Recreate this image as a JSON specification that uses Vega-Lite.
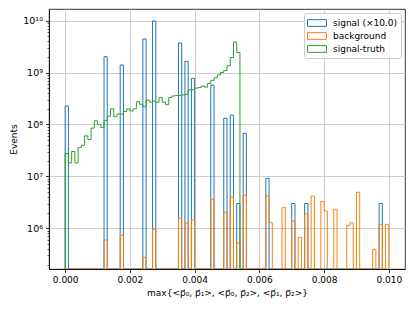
{
  "$schema": "https://vega.github.io/schema/vega-lite/v6.json",
  "width": 356,
  "height": 260,
  "autosize": {"type": "none"},
  "padding": {"left": 49, "top": 9, "right": 10, "bottom": 42},
  "background": "white",
  "config": {
    "view": {"stroke": "#000000", "strokeWidth": 0.8},
    "font": "DejaVu Sans",
    "axis": {
      "domainColor": "#000000", "domainWidth": 0.8,
      "tickColor": "#000000", "tickWidth": 0.8, "tickSize": 3.5,
      "labelColor": "#000000", "titleColor": "#000000",
      "labelFont": "DejaVu Sans", "titleFont": "DejaVu Sans",
      "labelFontSize": 9, "titleFontSize": 9, "titleFontWeight": "normal",
      "labelPadding": 3, "gridColor": "#c0c0c0", "gridWidth": 0.8, "zindex": 1
    },
    "legend": {
      "orient": "top-right", "offset": 4, "padding": 3, "rowPadding": 0,
      "labelFont": "DejaVu Sans", "labelFontSize": 9, "labelColor": "#000000",
      "symbolType": "M-1.46,-0.515H1.46V0.515H-1.46Z", "symbolSize": 169,
      "symbolStrokeWidth": 1, "symbolFillColor": "transparent", "symbolOffset": 3,
      "labelOffset": 9, "fillColor": "rgba(255,255,255,0.8)", "strokeColor": "#cccccc",
      "cornerRadius": 2
    }
  },
  "data": {
    "values": [
      {"s": "signal (×10.0)", "k": 0, "x": 0, "n": 0},
      {"s": "signal (×10.0)", "k": 1, "x": 0, "n": 227000000},
      {"s": "signal (×10.0)", "k": 2, "x": 0.0001, "n": 0},
      {"s": "signal (×10.0)", "k": 3, "x": 0.0012, "n": 2020000000},
      {"s": "signal (×10.0)", "k": 4, "x": 0.0013, "n": 0},
      {"s": "signal (×10.0)", "k": 5, "x": 0.0017, "n": 1400000000},
      {"s": "signal (×10.0)", "k": 6, "x": 0.0018, "n": 0},
      {"s": "signal (×10.0)", "k": 7, "x": 0.0024, "n": 4440000000},
      {"s": "signal (×10.0)", "k": 8, "x": 0.0025, "n": 0},
      {"s": "signal (×10.0)", "k": 9, "x": 0.0027, "n": 9860000000},
      {"s": "signal (×10.0)", "k": 10, "x": 0.0028, "n": 0},
      {"s": "signal (×10.0)", "k": 11, "x": 0.0035, "n": 3720000000},
      {"s": "signal (×10.0)", "k": 12, "x": 0.0036, "n": 0},
      {"s": "signal (×10.0)", "k": 13, "x": 0.0037, "n": 1650000000},
      {"s": "signal (×10.0)", "k": 14, "x": 0.0038, "n": 0},
      {"s": "signal (×10.0)", "k": 15, "x": 0.0039, "n": 776000000},
      {"s": "signal (×10.0)", "k": 16, "x": 0.004, "n": 0},
      {"s": "signal (×10.0)", "k": 17, "x": 0.0045, "n": 575000000},
      {"s": "signal (×10.0)", "k": 18, "x": 0.0046, "n": 0},
      {"s": "signal (×10.0)", "k": 19, "x": 0.0049, "n": 132000000},
      {"s": "signal (×10.0)", "k": 20, "x": 0.005, "n": 0},
      {"s": "signal (×10.0)", "k": 21, "x": 0.0051, "n": 152000000},
      {"s": "signal (×10.0)", "k": 22, "x": 0.0052, "n": 0},
      {"s": "signal (×10.0)", "k": 23, "x": 0.0053, "n": 3000000},
      {"s": "signal (×10.0)", "k": 24, "x": 0.0054, "n": 0},
      {"s": "signal (×10.0)", "k": 25, "x": 0.0055, "n": 67600000},
      {"s": "signal (×10.0)", "k": 26, "x": 0.0056, "n": 0},
      {"s": "signal (×10.0)", "k": 27, "x": 0.0062, "n": 9180000},
      {"s": "signal (×10.0)", "k": 28, "x": 0.0063, "n": 0},
      {"s": "signal (×10.0)", "k": 29, "x": 0.007, "n": 3000000},
      {"s": "signal (×10.0)", "k": 30, "x": 0.0071, "n": 0},
      {"s": "signal (×10.0)", "k": 31, "x": 0.0074, "n": 3000000},
      {"s": "signal (×10.0)", "k": 32, "x": 0.0075, "n": 0},
      {"s": "signal (×10.0)", "k": 33, "x": 0.0097, "n": 3000000},
      {"s": "signal (×10.0)", "k": 34, "x": 0.0098, "n": 0},

      {"s": "background", "k": 0, "x": 0, "n": 0},
      {"s": "background", "k": 1, "x": 0.0012, "n": 594000},
      {"s": "background", "k": 2, "x": 0.0013, "n": 0},
      {"s": "background", "k": 3, "x": 0.0017, "n": 733000},
      {"s": "background", "k": 4, "x": 0.0018, "n": 0},
      {"s": "background", "k": 5, "x": 0.0024, "n": 275000},
      {"s": "background", "k": 6, "x": 0.0025, "n": 0},
      {"s": "background", "k": 7, "x": 0.0027, "n": 955000},
      {"s": "background", "k": 8, "x": 0.0028, "n": 0},
      {"s": "background", "k": 9, "x": 0.0035, "n": 1550000},
      {"s": "background", "k": 10, "x": 0.0036, "n": 0},
      {"s": "background", "k": 11, "x": 0.0037, "n": 1260000},
      {"s": "background", "k": 12, "x": 0.0038, "n": 0},
      {"s": "background", "k": 13, "x": 0.0039, "n": 1450000},
      {"s": "background", "k": 14, "x": 0.004, "n": 0},
      {"s": "background", "k": 15, "x": 0.0045, "n": 3630000},
      {"s": "background", "k": 16, "x": 0.0046, "n": 0},
      {"s": "background", "k": 17, "x": 0.0049, "n": 2040000},
      {"s": "background", "k": 18, "x": 0.005, "n": 0},
      {"s": "background", "k": 19, "x": 0.0051, "n": 3980000},
      {"s": "background", "k": 20, "x": 0.0052, "n": 0},
      {"s": "background", "k": 21, "x": 0.0053, "n": 521000},
      {"s": "background", "k": 22, "x": 0.0054, "n": 0},
      {"s": "background", "k": 23, "x": 0.0055, "n": 4330000},
      {"s": "background", "k": 24, "x": 0.0056, "n": 0},
      {"s": "background", "k": 25, "x": 0.0062, "n": 4190000},
      {"s": "background", "k": 26, "x": 0.0063, "n": 1280000},
      {"s": "background", "k": 27, "x": 0.0064, "n": 0},
      {"s": "background", "k": 28, "x": 0.0067, "n": 2540000},
      {"s": "background", "k": 29, "x": 0.0068, "n": 0},
      {"s": "background", "k": 30, "x": 0.007, "n": 1380000},
      {"s": "background", "k": 31, "x": 0.0071, "n": 0},
      {"s": "background", "k": 32, "x": 0.0072, "n": 671000},
      {"s": "background", "k": 33, "x": 0.0073, "n": 0},
      {"s": "background", "k": 34, "x": 0.0074, "n": 1890000},
      {"s": "background", "k": 35, "x": 0.0075, "n": 0},
      {"s": "background", "k": 36, "x": 0.0076, "n": 4190000},
      {"s": "background", "k": 37, "x": 0.0077, "n": 0},
      {"s": "background", "k": 38, "x": 0.0079, "n": 3260000},
      {"s": "background", "k": 39, "x": 0.008, "n": 2150000},
      {"s": "background", "k": 40, "x": 0.0081, "n": 0},
      {"s": "background", "k": 41, "x": 0.0083, "n": 2320000},
      {"s": "background", "k": 42, "x": 0.0084, "n": 0},
      {"s": "background", "k": 43, "x": 0.0087, "n": 1140000},
      {"s": "background", "k": 44, "x": 0.0088, "n": 1280000},
      {"s": "background", "k": 45, "x": 0.0089, "n": 0},
      {"s": "background", "k": 46, "x": 0.009, "n": 4940000},
      {"s": "background", "k": 47, "x": 0.0091, "n": 0},
      {"s": "background", "k": 48, "x": 0.0095, "n": 394000},
      {"s": "background", "k": 49, "x": 0.0096, "n": 0},
      {"s": "background", "k": 50, "x": 0.0097, "n": 1190000},
      {"s": "background", "k": 51, "x": 0.0098, "n": 0},
      {"s": "background", "k": 52, "x": 0.0099, "n": 1190000},
      {"s": "background", "k": 53, "x": 0.01, "n": 0},

      {"s": "signal-truth", "k": 0, "x": 0, "n": 0},
      {"s": "signal-truth", "k": 1, "x": 0, "n": 27500000},
      {"s": "signal-truth", "k": 2, "x": 0.0001, "n": 18200000},
      {"s": "signal-truth", "k": 3, "x": 0.0002, "n": 30200000},
      {"s": "signal-truth", "k": 4, "x": 0.0003, "n": 18200000},
      {"s": "signal-truth", "k": 5, "x": 0.0004, "n": 36300000},
      {"s": "signal-truth", "k": 6, "x": 0.0005, "n": 39800000},
      {"s": "signal-truth", "k": 7, "x": 0.0006, "n": 60300000},
      {"s": "signal-truth", "k": 8, "x": 0.0007, "n": 51300000},
      {"s": "signal-truth", "k": 9, "x": 0.0008, "n": 85100000},
      {"s": "signal-truth", "k": 10, "x": 0.0009, "n": 117500000},
      {"s": "signal-truth", "k": 11, "x": 0.001, "n": 100000000},
      {"s": "signal-truth", "k": 12, "x": 0.0011, "n": 87100000},
      {"s": "signal-truth", "k": 13, "x": 0.0012, "n": 120000000},
      {"s": "signal-truth", "k": 14, "x": 0.0013, "n": 144500000},
      {"s": "signal-truth", "k": 15, "x": 0.0014, "n": 200000000},
      {"s": "signal-truth", "k": 16, "x": 0.0015, "n": 141000000},
      {"s": "signal-truth", "k": 17, "x": 0.0016, "n": 158500000},
      {"s": "signal-truth", "k": 18, "x": 0.0017, "n": 158500000},
      {"s": "signal-truth", "k": 19, "x": 0.0018, "n": 178000000},
      {"s": "signal-truth", "k": 20, "x": 0.0019, "n": 200000000},
      {"s": "signal-truth", "k": 21, "x": 0.002, "n": 182000000},
      {"s": "signal-truth", "k": 22, "x": 0.0021, "n": 200000000},
      {"s": "signal-truth", "k": 23, "x": 0.0022, "n": 275000000},
      {"s": "signal-truth", "k": 24, "x": 0.0023, "n": 245000000},
      {"s": "signal-truth", "k": 25, "x": 0.0024, "n": 219000000},
      {"s": "signal-truth", "k": 26, "x": 0.0025, "n": 295000000},
      {"s": "signal-truth", "k": 27, "x": 0.0026, "n": 269000000},
      {"s": "signal-truth", "k": 28, "x": 0.0027, "n": 282000000},
      {"s": "signal-truth", "k": 29, "x": 0.0028, "n": 269000000},
      {"s": "signal-truth", "k": 30, "x": 0.0029, "n": 331000000},
      {"s": "signal-truth", "k": 31, "x": 0.003, "n": 269000000},
      {"s": "signal-truth", "k": 32, "x": 0.0031, "n": 240000000},
      {"s": "signal-truth", "k": 33, "x": 0.0032, "n": 331000000},
      {"s": "signal-truth", "k": 34, "x": 0.0033, "n": 355000000},
      {"s": "signal-truth", "k": 35, "x": 0.0034, "n": 363000000},
      {"s": "signal-truth", "k": 36, "x": 0.0035, "n": 363000000},
      {"s": "signal-truth", "k": 37, "x": 0.0036, "n": 372000000},
      {"s": "signal-truth", "k": 38, "x": 0.0037, "n": 380000000},
      {"s": "signal-truth", "k": 39, "x": 0.0038, "n": 462000000},
      {"s": "signal-truth", "k": 40, "x": 0.0039, "n": 468000000},
      {"s": "signal-truth", "k": 41, "x": 0.004, "n": 501000000},
      {"s": "signal-truth", "k": 42, "x": 0.0041, "n": 513000000},
      {"s": "signal-truth", "k": 43, "x": 0.0042, "n": 550000000},
      {"s": "signal-truth", "k": 44, "x": 0.0043, "n": 525000000},
      {"s": "signal-truth", "k": 45, "x": 0.0044, "n": 617000000},
      {"s": "signal-truth", "k": 46, "x": 0.0045, "n": 708000000},
      {"s": "signal-truth", "k": 47, "x": 0.0046, "n": 794000000},
      {"s": "signal-truth", "k": 48, "x": 0.0047, "n": 902000000},
      {"s": "signal-truth", "k": 49, "x": 0.0048, "n": 1000000000},
      {"s": "signal-truth", "k": 50, "x": 0.0049, "n": 1100000000},
      {"s": "signal-truth", "k": 51, "x": 0.005, "n": 1350000000},
      {"s": "signal-truth", "k": 52, "x": 0.0051, "n": 1950000000},
      {"s": "signal-truth", "k": 53, "x": 0.0052, "n": 3890000000},
      {"s": "signal-truth", "k": 54, "x": 0.0053, "n": 2430000000},
      {"s": "signal-truth", "k": 55, "x": 0.0054, "n": 0}
    ]
  },
  "encoding": {
    "x": {
      "field": "x", "type": "quantitative",
      "scale": {"domain": [-0.0005, 0.0105], "nice": false, "zero": false},
      "axis": {
        "values": [0, 0.002, 0.004, 0.006, 0.008, 0.01], "format": ".3f",
        "grid": true, "title": "max{<p⃗₀, p⃗₁>, <p⃗₀, p⃗₂>, <p⃗₁, p⃗₂>}", "titlePadding": 4
      }
    },
    "color": {
      "field": "s", "type": "nominal",
      "scale": {
        "domain": ["signal (×10.0)", "background", "signal-truth"],
        "range": ["#1f77b4", "#ff7f0e", "#2ca02c"]
      },
      "legend": {"title": null}
    },
    "order": {"field": "k", "type": "quantitative"}
  },
  "layer": [
    {
      "transform": [{"filter": "datum.s === 'signal (×10.0)'"}],
      "mark": {"type": "line", "interpolate": "step-after", "strokeWidth": 1, "clip": true, "invalid": "show"},
      "encoding": {
        "y": {
          "field": "n", "type": "quantitative",
          "scale": {"type": "log", "domain": [164100, 16790000000], "nice": false, "clamp": true},
          "axis": {
            "values": [1000000, 10000000, 100000000, 1000000000, 10000000000],
            "labelExpr": "datum.value >= 5e9 ? '10¹⁰' : datum.value >= 5e8 ? '10⁹' : datum.value >= 5e7 ? '10⁸' : datum.value >= 5e6 ? '10⁷' : '10⁶'",
            "labelFontSize": 9.5,
            "grid": true, "title": "Events", "titlePadding": 4
          }
        }
      }
    },
    {
      "transform": [{"filter": "datum.s === 'background'"}],
      "mark": {"type": "line", "interpolate": "step-after", "strokeWidth": 1, "clip": true, "invalid": "show"},
      "encoding": {
        "y": {
          "field": "n", "type": "quantitative",
          "axis": {
            "orient": "left",
            "values": [200000, 300000, 400000, 500000, 600000, 700000, 800000, 900000,
                       2000000, 3000000, 4000000, 5000000, 6000000, 7000000, 8000000, 9000000,
                       20000000, 30000000, 40000000, 50000000, 60000000, 70000000, 80000000, 90000000,
                       200000000, 300000000, 400000000, 500000000, 600000000, 700000000, 800000000, 900000000,
                       2000000000, 3000000000, 4000000000, 5000000000, 6000000000, 7000000000, 8000000000, 9000000000],
            "labels": false, "grid": false, "domain": false, "tickSize": 2, "tickWidth": 0.6, "title": null
          }
        }
      }
    },
    {
      "transform": [{"filter": "datum.s === 'signal-truth'"}],
      "mark": {"type": "line", "interpolate": "step-after", "strokeWidth": 1, "clip": true, "invalid": "show"},
      "encoding": {
        "y": {"field": "n", "type": "quantitative", "axis": null}
      }
    }
  ],
  "resolve": {"scale": {"y": "shared"}, "axis": {"y": "independent"}}
}
